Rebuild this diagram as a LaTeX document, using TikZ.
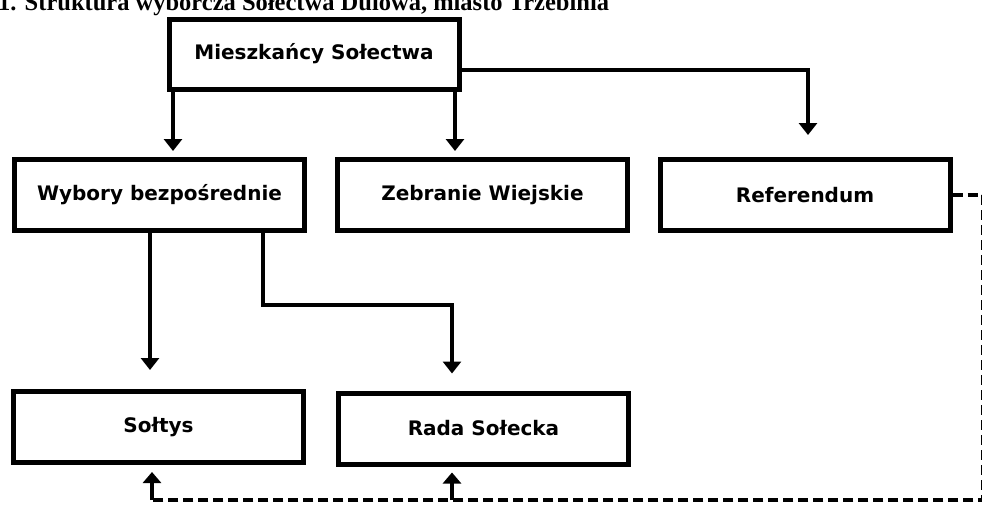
\documentclass[tikz,border=0pt]{standalone}
\usepackage{fontspec}
\usetikzlibrary{arrows.meta}
\newfontfamily\boxfont{DejaVu Sans}
\newfontfamily\headfont{Liberation Serif}
\begin{document}
\begin{tikzpicture}[x=1pt,y=-1pt,
  box/.style={draw=black, line width=5pt, fill=white, rectangle,
    minimum width=290pt, minimum height=71pt, inner sep=0pt,
    font=\boxfont\bfseries\fontsize{20pt}{22pt}\selectfont},
  link/.style={line width=4pt, -{Triangle[width=18pt,length=12pt]}},
  backlink/.style={line width=3.5pt, dash pattern=on 10pt off 5pt},
  uplink/.style={line width=4pt, -{Triangle[width=18pt,length=11pt]}}]
\useasboundingbox (0,0) rectangle (982,506);
\fill[white] (0,0) rectangle (982,506);

% heading, its upper half runs off the top edge
\node[anchor=base west, inner sep=0pt, font=\headfont\bfseries\fontsize{24.5pt}{26pt}\selectfont]
  (title) at (-2,10) {1. Struktura wyborcza Sołectwa Dulowa, miasto Trzebinia};

% boxes
\node[box, minimum height=70pt] (miesz) at (314,54) {Mieszkańcy Sołectwa};
\node[box] (wyb) at (159.5,195) {Wybory bezpośrednie};
\node[box] (zebr) at (482.5,195) {Zebranie Wiejskie};
\node[box] (ref) at (805,195) {Referendum};
\node[box] (solt) at (158.5,427) {Sołtys};
\node[box] (rada) at (483.5,428.5) {Rada Sołecka};

% solid connectors
\draw[link] (miesz.south -| 173,0) -- ([yshift=6pt]wyb.north -| 173,0);
\draw[link] (miesz.south -| 455,0) -- ([yshift=6pt]zebr.north -| 455,0);
\draw[link] (miesz.east |- 0,70) -| ([yshift=22pt]ref.north -| 808,0);
\draw[link] (wyb.south -| 150,0) -- ([yshift=19pt]solt.north -| 150,0);
\draw[link] (wyb.south -| 263,0) |- (452,305) -- ([yshift=17pt]rada.north -| 452,0);

% dashed feedback line from the referendum, its vertical run along the right edge
\coordinate (c1) at (982.9,195);
\coordinate (c2) at (982.9,500);
\coordinate (fs) at (152,500);
\coordinate (fr) at (452,500);
\draw[backlink] (ref.east) -- (c1) -- (c2) -- (fs);
\draw[uplink] (fs) -- ([yshift=-7pt]solt.south -| fs);
\draw[uplink] (fr) -- ([yshift=-6pt]rada.south -| fr);
\end{tikzpicture}
\end{document}
